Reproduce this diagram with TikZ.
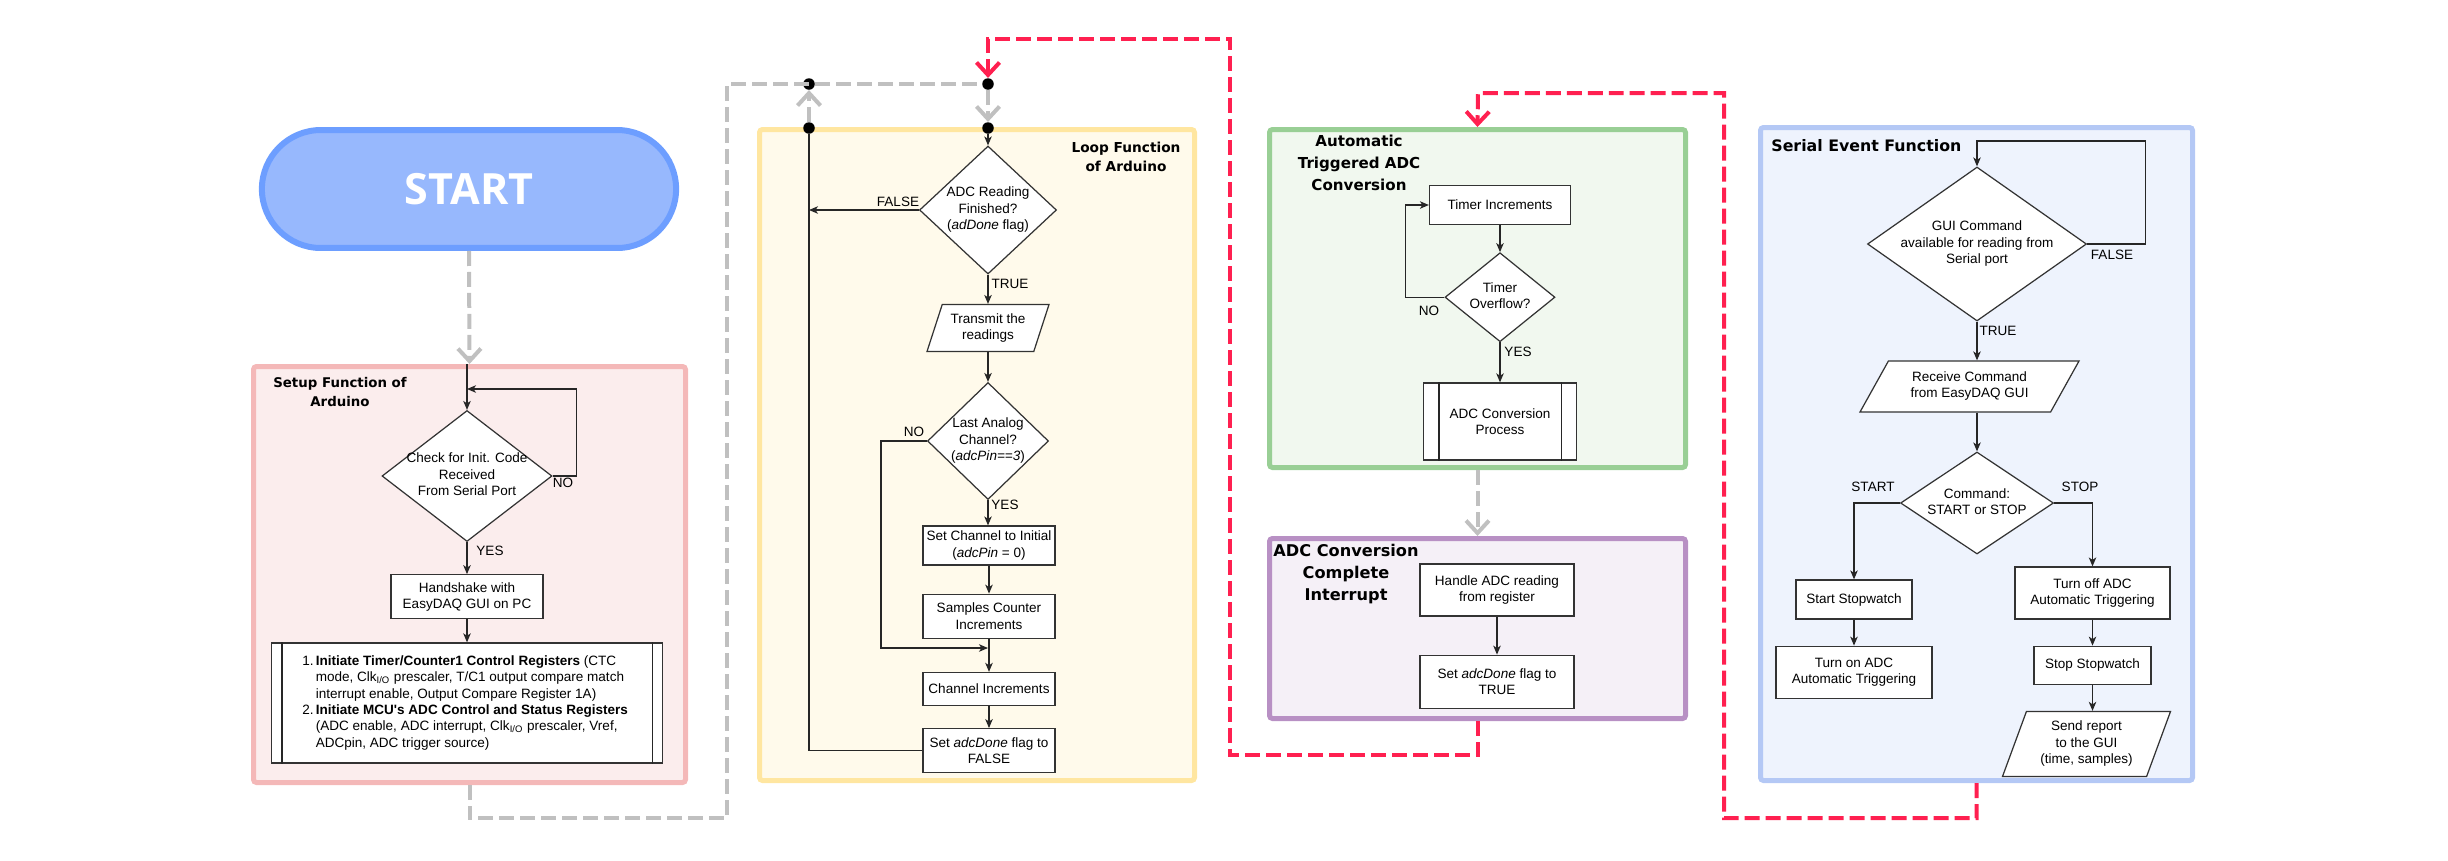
\documentclass[tikz,border=0pt]{standalone}
\usepackage{fontspec}
\setmainfont{Liberation Sans}
\newfontfamily\headfont{DejaVu Sans}
\newfontfamily\startfont{Open Sans}
\usetikzlibrary{shapes.geometric, shapes.misc, arrows.meta, positioning, fit}

\definecolor{startfill}{HTML}{97B8FD}
\definecolor{startdraw}{HTML}{6D9EFF}
\definecolor{setupdraw}{HTML}{F4B8B8}
\definecolor{setupfill}{HTML}{FBEDED}
\definecolor{loopdraw}{HTML}{FFE6A0}
\definecolor{loopfill}{HTML}{FFFAEB}
\definecolor{autodraw}{HTML}{99CF95}
\definecolor{autofill}{HTML}{F1F8EF}
\definecolor{intdraw}{HTML}{B890C4}
\definecolor{intfill}{HTML}{F5F0F7}
\definecolor{serdraw}{HTML}{B4C8F5}
\definecolor{serfill}{HTML}{EEF3FD}
\definecolor{grisln}{HTML}{C0C0C0}
\definecolor{rojoln}{HTML}{FF2050}

\newcommand{\bodyf}{\fontsize{7.7}{9.3}\selectfont}
\newcommand{\ctext}[1]{\makebox[0pt]{\begin{tabular}{@{}c@{}}#1\end{tabular}}}

\begin{document}
\begin{tikzpicture}[
        x=0.02cm, y=-0.02cm,
        node distance=0.5cm,
        % Estilos para los paneles
        panel/.style 2 args={
                rectangle,
                rounded corners=0.06cm,
                draw=#1,
                fill=#2,
                line width=0.1cm,
                inner sep=0pt
            },
        titulo/.style 2 args={
                align=center,
                inner sep=0pt,
                font=\headfont\bfseries\fontsize{#1}{#2}\selectfont
            },
        startnode/.style={
                rounded rectangle,
                draw=startdraw,
                fill=startfill,
                line width=0.12cm,
                minimum width=8.52cm,
                minimum height=2.36cm,
                text=white,
                font=\startfont\bfseries\fontsize{24.5}{28}\selectfont
            },
        % Estilos para los bloques
        proc/.style 2 args={
                rectangle,
                draw=black!80,
                fill=white,
                line width=0.7pt,
                minimum width=#1*0.02cm,
                minimum height=#2*0.02cm,
                inner sep=1pt,
                align=center,
                font=\bodyf
            },
        decis/.style 2 args={
                diamond,
                aspect=1,
                draw=black!80,
                fill=white,
                line width=0.7pt,
                minimum width=#1*0.02cm,
                minimum height=#2*0.02cm,
                inner sep=0pt,
                font=\bodyf
            },
        datos/.style n args={4}{
                trapezium,
                trapezium left angle=#3,
                trapezium right angle=#4,
                trapezium stretches body,
                draw=black!80,
                fill=white,
                line width=0.7pt,
                minimum width=#1*0.02cm,
                minimum height=#2*0.02cm,
                inner sep=0pt,
                font=\bodyf
            },
        punto/.style={circle, fill=black, inner sep=0pt, minimum size=0.23cm},
        etiq/.style={inner sep=0pt, font=\bodyf},
        % Flechas
        arrow/.style={
                -{Stealth[length=0.18cm, width=0.15cm, inset=0.05cm]},
                line width=0.7pt,
                draw=black!85
            },
        linea/.style={line width=0.7pt, draw=black!85},
        gris/.style={draw=grisln, line width=0.08cm, dash pattern=on 0.3cm off 0.12cm},
        grisarrow/.style={gris, -{Straight Barb[length=0.25cm, width=0.46cm]}},
        rojo/.style={
                draw=rojoln,
                line width=0.08cm,
                dash pattern=on 0.3cm off 0.12cm,
                -{Straight Barb[length=0.25cm, width=0.46cm]}
            }
    ]

    \useasboundingbox (0,0) rectangle (2448,860);

    % Paneles
    \node[panel={setupdraw}{setupfill}, fit={(253.5,366.5) (685.5,782.5)}] (setupbox) {};
    \node[panel={loopdraw}{loopfill}, fit={(759.5,129.5) (1194.5,780.5)}] (loopbox) {};
    \node[panel={autodraw}{autofill}, fit={(1269.5,129.5) (1685.5,467.5)}] (auto) {};
    \node[panel={intdraw}{intfill}, fit={(1269.5,538.5) (1685.5,718.5)}] (adcint) {};
    \node[panel={serdraw}{serfill}, fit={(1760.5,127.5) (2192.5,780.5)}] (serial) {};

    % Inicio
    \node[startnode] (start) at (469,189) {START};

    % Setup
    \node[titulo={7.6}{10.3}] (tsetup) at (340,392) {Setup Function of\\Arduino};
    \node[decis={170}{131}] (chk) at (467,476) {\ctext{Check for Init. Code\\Received\\From Serial Port}};
    \node[proc={152}{44}, below=0.64cm of chk] (hand) {Handshake with\\EasyDAQ GUI on PC};
    \node[proc={391}{120}, below=0.46cm of hand] (init) {
        \begin{tabular}{@{}r@{\,}l@{}}
            1. & \textbf{Initiate Timer/Counter1 Control Registers} (CTC\\
               & mode, Clk\textsubscript{I/O} prescaler, T/C1 output compare match\\
               & interrupt enable, Output Compare Register 1A)\\
            2. & \textbf{Initiate MCU\textquotesingle s ADC Control and Status Registers}\\
               & (ADC enable, ADC interrupt, Clk\textsubscript{I/O} prescaler, Vref,\\
               & ADCpin, ADC trigger source)
        \end{tabular}
    };
    \draw[linea] ([xshift=0.22cm]init.north west) -- ([xshift=0.22cm]init.south west);
    \draw[linea] ([xshift=-0.22cm]init.north east) -- ([xshift=-0.22cm]init.south east);
    \node[etiq] (lno1) at (563,483) {NO};
    \node[etiq] (lyes1) at (490,551) {YES};
    \coordinate (chktop) at (467,389);

    \draw[arrow] (chk.north |- setupbox.north) -- (chk.north);
    \draw[arrow] (chk.east) -- ++(24,0) |- (chktop);
    \draw[arrow] (chk.south) -- (hand.north);
    \draw[arrow] (hand.south) -- (init.north);

    % Loop
    \node[titulo={7.8}{10.8}] (tloop) at (1126,157) {Loop Function\\of Arduino};
    \node[punto] (dL) at (809,84) {};
    \node[punto] (dR) at (988,84) {};
    \node[punto] (dLb) at (809,128) {};
    \node[punto] (dRb) at (988,128) {};
    \node[decis={137}{128}] (rd1) at (988,210) {\ctext{ADC Reading\\Finished?\\(\textit{adDone} flag)}};
    \node[datos={122}{47}{65}{115}] (tx) at (988,328) {\ctext{Transmit the\\readings}};
    \node[decis={121}{117}] (ch) at (988,441) {\ctext{Last Analog\\Channel?\\(\textit{adcPin==3})}};
    \node[proc={132}{39}] (setch) at (989,545.5) {Set Channel to Initial\\(\textit{adcPin} = 0)};
    \node[proc={132}{44}, below=0.56cm of setch] (samp) {Samples Counter\\Increments};
    \node[proc={132}{33}, below=0.66cm of samp] (chan) {Channel Increments};
    \node[proc={132}{44}, below=0.44cm of chan] (setf) {Set \textit{adcDone} flag to\\FALSE};
    \node[etiq] (lfalse1) at (898,202) {FALSE};
    \node[etiq] (ltrue1) at (1010,284) {TRUE};
    \node[etiq] (lno2) at (914,432) {NO};
    \node[etiq] (lyes2) at (1005,505) {YES};
    \coordinate (merge) at (988,648);

    \draw[arrow] (dRb) -- (rd1.north);
    \draw[arrow] (rd1.west) -- (rd1.west -| dL);
    \draw[arrow] (rd1.south) -- (tx.north);
    \draw[arrow] (tx.south) -- (ch.north);
    \draw[arrow] (ch.south) -- (setch.north -| ch.south);
    \draw[arrow] (ch.west) -- ++(-46,0) |- (merge);
    \draw[arrow] (setch.south) -- (samp.north);
    \draw[arrow] (samp.south) -- (chan.north);
    \draw[arrow] (chan.south) -- (setf.north);
    \draw[linea] (setf.west) -| (dLb);

    % Conversion automatica
    \node[titulo={8.6}{12.4}] (tauto) at (1359,163) {Automatic\\Triggered ADC\\Conversion};
    \node[proc={141}{39}] (tmr) at (1500,205) {Timer Increments};
    \node[decis={110}{89}, below=0.54cm of tmr] (ovf) {\ctext{Timer\\Overflow?}};
    \node[proc={153}{77}, below=0.8cm of ovf] (adcp) {ADC Conversion\\Process};
    \draw[linea] ([xshift=0.32cm]adcp.north west) -- ([xshift=0.32cm]adcp.south west);
    \draw[linea] ([xshift=-0.32cm]adcp.north east) -- ([xshift=-0.32cm]adcp.south east);
    \node[etiq] (lno3) at (1429,311) {NO};
    \node[etiq] (lyes3) at (1518,352) {YES};

    \draw[arrow] (tmr.south) -- (ovf.north);
    \draw[arrow] (ovf.west) -- ++(-39,0) |- (tmr.west);
    \draw[arrow] (ovf.south) -- (adcp.north);

    % Interrupcion
    \node[titulo={9.2}{12.4}] (tint) at (1346,574) {ADC Conversion\\Complete\\Interrupt};
    \node[proc={154}{52}] (hdl) at (1497,590) {Handle ADC reading\\from register};
    \node[proc={154}{53}, below=0.76cm of hdl] (sett) {Set \textit{adcDone} flag to\\TRUE};
    \draw[arrow] (hdl.south) -- (sett.north);

    % Serial Event
    \node[titulo={9}{11}, anchor=west] (tserial) at (1771,146) {Serial Event Function};
    \node[decis={219}{154}] (gui) at (1977,244) {\ctext{GUI Command\\available for reading from\\Serial port}};
    \node[datos={219}{51}{49}{131}] (rcv) at (1969.5,386.5) {\ctext{Receive Command\\from EasyDAQ GUI}};
    \node[decis={153}{102}] (cmd) at (1977,503) {\ctext{Command:\\START or STOP}};
    \node[proc={116}{39}] (sw) at (1854,599.5) {Start Stopwatch};
    \node[proc={156}{52}, below=0.52cm of sw] (ton) {Turn on ADC\\Automatic Triggering};
    \node[proc={155}{52}] (toff) at (2092.5,593) {Turn off ADC\\Automatic Triggering};
    \node[proc={117}{38}, below=0.52cm of toff] (ssw) {Stop Stopwatch};
    \node[datos={168}{65}{64}{116}, below=0.52cm of ssw, xshift=-0.12cm] (rep) {\ctext{Send report\\to the GUI\\(time, samples)}};
    \node[etiq] (lfalse2) at (2112,255) {FALSE};
    \node[etiq] (ltrue2) at (1998,331) {TRUE};
    \node[etiq] (lstart) at (1873,487) {START};
    \node[etiq] (lstop) at (2080,487) {STOP};
    \coordinate (guitop) at (1977,141);

    \draw[arrow] (gui.east) -- ++(58,0) |- (guitop) -- (gui.north);
    \draw[arrow] (gui.south) -- (gui.south |- rcv.north);
    \draw[arrow] (cmd.north |- rcv.south) -- (cmd.north);
    \draw[arrow] (cmd.west) -| (sw.north);
    \draw[arrow] (cmd.east) -| (toff.north);
    \draw[arrow] (sw.south) -- (ton.north);
    \draw[arrow] (toff.south) -- (ssw.north);
    \draw[arrow] (ssw.south) -- (ssw.south |- rep.north);

    % Conexiones entre bloques
    \coordinate (gcorner) at (727,818);
    \coordinate (rc1) at (1230,755);
    \coordinate (rc2) at (988,39);
    \coordinate (rc3) at (1724,818);
    \coordinate (rc4) at (1478,93);

    \draw[grisarrow] (start.south) -- (setupbox.north);
    \draw[gris] (setupbox.south) |- (gcorner) |- (dR);
    \draw[grisarrow] (dR) -- (dRb);
    \draw[grisarrow] (dLb) -- (dL);
    \draw[grisarrow] (auto.south) -- (adcint.north);
    \draw[rojo] (adcint.south) |- (rc1) |- (rc2) -- (dR);
    \draw[rojo] (serial.south) |- (rc3) |- (rc4) -- (auto.north);

\end{tikzpicture}
\end{document}
